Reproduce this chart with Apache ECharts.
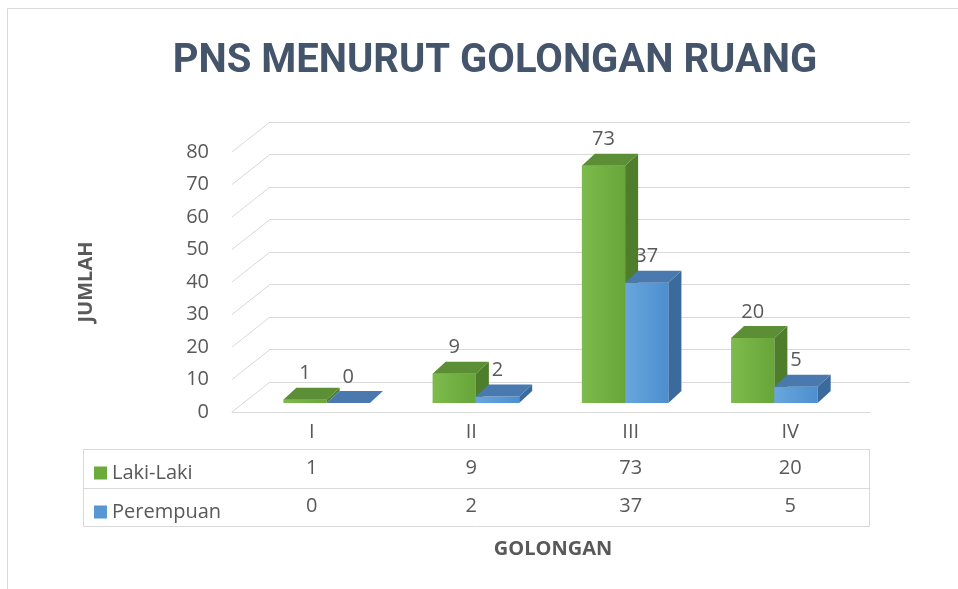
<!DOCTYPE html>
<html>
<head>
<meta charset="utf-8">
<title>PNS Menurut Golongan Ruang</title>
<script src="https://cdn.jsdelivr.net/npm/echarts@6/dist/echarts.min.js"></script>
<style>
  html, body { margin: 0; padding: 0; background: #fff; }
  #chart { width: 958px; height: 589px; }
</style>
</head>
<body>
<div id="chart"></div>
<script>
// data
var categories = ["I", "II", "III", "IV"];
var lakiLaki = [1, 9, 73, 20];
var perempuan = [0, 2, 37, 5];
var yTicks = [0, 10, 20, 30, 40, 50, 60, 70, 80];

var textGray = "#595959";
var lineGray = "#d9d9d9";
var bodyFont = "'Open Sans', 'Liberation Sans', sans-serif";

var green = { light: "#7dbb4c", dark: "#68a53a", side: "#4e7e2c", top: "#5b8e35" };
var blue = { light: "#68a6dd", dark: "#4c8fcf", side: "#3b6b9c", top: "#4979ae" };

// 3d-looking bar: front face + right side + top, with value label
function bar3d(leftHalf, c) {
    return function (params, api) {
        var v = api.value(1);
        var base = api.coord([api.value(0), 0]);
        var top = api.coord([api.value(0), v]);
        var w = api.size([1, 0])[0] * 0.29;
        var x0 = leftHalf ? base[0] - w : base[0];
        var yb = base[1], yt = top[1];
        var dx = 13, dy = 12;
        return {
            type: "group",
            children: [
                {
                    type: "rect",
                    shape: { x: x0, y: yt, width: w, height: yb - yt },
                    style: {
                        fill: new echarts.graphic.LinearGradient(0, 0, 1, 0, [
                            { offset: 0, color: c.light },
                            { offset: 1, color: c.dark }
                        ])
                    }
                },
                {
                    type: "polygon",
                    shape: { points: [[x0 + w, yt], [x0 + w + dx, yt - dy], [x0 + w + dx, yb - dy], [x0 + w, yb]] },
                    style: { fill: c.side }
                },
                {
                    type: "polygon",
                    shape: { points: [[x0, yt], [x0 + dx, yt - dy], [x0 + w + dx, yt - dy], [x0 + w, yt]] },
                    style: { fill: c.top }
                },
                {
                    type: "text",
                    x: x0 + w / 2,
                    y: yt - dy - 14,
                    style: {
                        text: String(v), fill: textGray, font: "20px " + bodyFont,
                        align: "center", verticalAlign: "middle"
                    }
                }
            ]
        };
    };
}

// diagonal lines on the left wall, from front plane to back wall
function wallLine(params, api) {
    var p = api.coord([0, api.value(1)]);
    var x = p[0] - api.size([1, 0])[0] / 2;
    return {
        type: "line",
        shape: { x1: x, y1: p[1], x2: x + 38, y2: p[1] - 30 },
        style: { stroke: lineGray, lineWidth: 1 }
    };
}

var myChart = echarts.init(document.getElementById("chart"));

var option = {
    backgroundColor: "#fff",
    animation: false,
    title: [
        {
            text: "PNS MENURUT GOLONGAN RUANG",
            left: 490, top: 37, textAlign: "center",
            textStyle: { fontFamily: "Roboto, 'Liberation Sans', sans-serif", fontSize: 40, fontWeight: "bold", color: "#44546a" }
        },
        {
            text: "GOLONGAN",
            left: 548, top: 534, textAlign: "center",
            textStyle: { fontFamily: bodyFont, fontSize: 20, fontWeight: "bold", color: textGray }
        }
    ],
    legend: {
        orient: "vertical",
        left: 89, top: 458,
        itemWidth: 13, itemHeight: 13, itemGap: 19,
        icon: "rect",
        textStyle: { fontFamily: bodyFont, fontSize: 20, color: textGray, lineHeight: 20 },
        data: [
            { name: "Laki-Laki", itemStyle: { color: "#6aab3c" } },
            { name: "Perempuan", itemStyle: { color: "#5797d4" } }
        ]
    },
    grid: [
        { left: 232, right: 88, top: 152, height: 260, outerBoundsMode: "none" },  // front plane + table
        { left: 270, right: 48, top: 122, height: 260, outerBoundsMode: "none" },  // back wall
        { left: 252, right: 109, top: 143, height: 260, outerBoundsMode: "none" }  // bars
    ],
    xAxis: [
        {
            gridIndex: 0, type: "category", data: categories, position: "bottom",
            axisLine: { lineStyle: { color: lineGray } },
            axisTick: { length: 114, lineStyle: { color: lineGray } },
            axisLabel: { margin: 10, fontFamily: bodyFont, fontSize: 20, color: textGray }
        },
        {
            gridIndex: 0, type: "category", data: lakiLaki.map(String), position: "bottom", offset: 37,
            axisLine: { lineStyle: { color: lineGray } },
            axisTick: { show: false },
            axisLabel: { margin: 9, fontFamily: bodyFont, fontSize: 20, color: textGray }
        },
        {
            gridIndex: 0, type: "category", data: perempuan.map(String), position: "bottom", offset: 76,
            axisLine: { lineStyle: { color: lineGray } },
            axisTick: { show: false },
            axisLabel: { margin: 8, fontFamily: bodyFont, fontSize: 20, color: textGray }
        },
        { gridIndex: 1, type: "category", data: categories, show: false },
        { gridIndex: 2, type: "category", data: categories, show: false }
    ],
    yAxis: [
        {
            gridIndex: 0, type: "value", min: 0, max: 80, interval: 10,
            axisLine: { show: false }, axisTick: { show: false }, splitLine: { show: false },
            axisLabel: { margin: 23, fontFamily: bodyFont, fontSize: 20, color: textGray },
            name: "JUMLAH", nameLocation: "middle", nameGap: 136, nameRotate: 90,
            nameTextStyle: { fontFamily: bodyFont, fontSize: 20, fontWeight: "bold", color: textGray }
        },
        {
            gridIndex: 1, type: "value", min: 0, max: 80, interval: 10,
            axisLine: { show: false }, axisTick: { show: false }, axisLabel: { show: false },
            splitLine: { lineStyle: { color: lineGray } }
        },
        { gridIndex: 2, type: "value", min: 0, max: 80, interval: 10, show: false, splitLine: { show: false } }
    ],
    graphic: [
        { type: "rect", shape: { x: 7.5, y: 8.5, width: 1000, height: 700 }, style: { fill: "none", stroke: lineGray } },
        { type: "rect", shape: { x: 83.5, y: 449.5, width: 786, height: 77 }, style: { fill: "none", stroke: lineGray } },
        { type: "line", shape: { x1: 83.5, y1: 488.5, x2: 232, y2: 488.5 }, style: { stroke: lineGray } }
    ],
    series: [
        {
            name: "wall", type: "custom", xAxisIndex: 0, yAxisIndex: 0,
            data: yTicks.map(function (t) { return [0, t]; }),
            renderItem: wallLine, silent: true
        },
        {
            name: "Laki-Laki", type: "custom", xAxisIndex: 4, yAxisIndex: 2,
            itemStyle: { color: "#6aab3c" },
            data: lakiLaki.map(function (v, i) { return [i, v]; }),
            encode: { x: 0, y: 1 },
            renderItem: bar3d(true, green)
        },
        {
            name: "Perempuan", type: "custom", xAxisIndex: 4, yAxisIndex: 2,
            itemStyle: { color: "#5797d4" },
            data: perempuan.map(function (v, i) { return [i, v]; }),
            encode: { x: 0, y: 1 },
            renderItem: bar3d(false, blue)
        }
    ]
};

myChart.setOption(option);
</script>
</body>
</html>
